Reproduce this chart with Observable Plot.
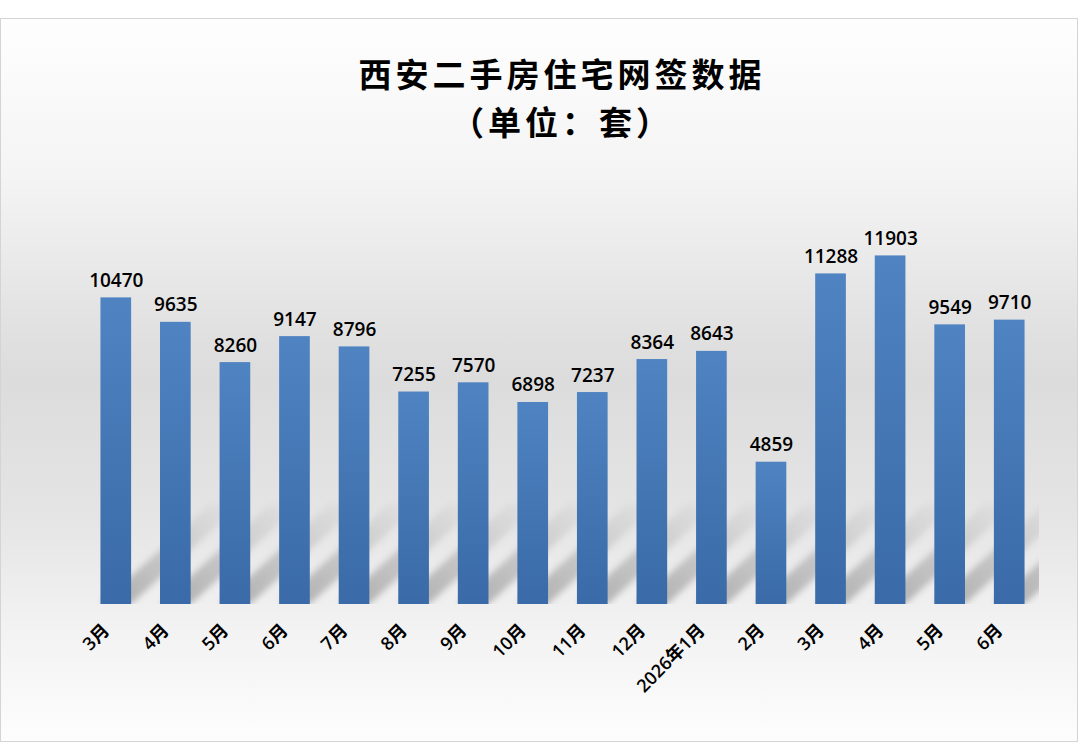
<!DOCTYPE html>
<html><head><meta charset="utf-8">
<script src="https://cdn.jsdelivr.net/npm/d3@7"></script>
<script src="https://cdn.jsdelivr.net/npm/@observablehq/plot@0.6"></script>
<style>
body{margin:0;background:#fff;width:1080px;height:745px;overflow:hidden;position:relative;font-family:"Noto Sans CJK SC","Noto Sans",sans-serif;}
#card{position:absolute;left:0;top:18px;width:1076px;height:722px;border:1px solid #d4d4d4;
background:linear-gradient(to bottom,#fefefe 0%,#f4f4f4 22%,#e0e0e0 44%,#dcdcdc 50%,#e4e4e4 68%,#f2f2f2 84%,#fdfdfd 100%);}
.t{position:absolute;left:0;top:49px;width:1124px;text-align:center;font-size:33px;letter-spacing:4px;line-height:48px;font-weight:bold;color:#000;}
#chart{position:absolute;left:0;top:0;}
</style></head>
<body>
<div id="card"></div>
<div class="t">西安二手房住宅网签数据<br>（单位：套）</div>
<div id="chart"></div>
<script>
const labels = ["3月","4月","5月","6月","7月","8月","9月","10月","11月","12月","2026年1月","2月","3月","4月","5月","6月"];
const values = [10470,9635,8260,9147,8796,7255,7570,6898,7237,8364,8643,4859,11288,11903,9549,9710];
const yMax = 14000;
const data = values.map((v,i)=>({i, v, label:labels[i]}));
const FONT = '"Open Sans","Noto Sans CJK SC",sans-serif';

const plot = Plot.plot({
  width:1080, height:745,
  marginTop:194, marginBottom:141, marginLeft:86, marginRight:41,
  style:{fontFamily:FONT, fontSize:"16px", background:"transparent", color:"#000"},
  x:{domain:d3.range(labels.length), paddingInner:0.485, paddingOuter:0.2425, round:false, axis:null},
  y:{domain:[0,yMax], axis:null},
  marks:[
    Plot.barY(data,{x:"i", y:"v", fill:"url(#barGrad)"}),
    Plot.text(data,{x:"i", y:"v", text:d=>String(d.v), lineAnchor:"bottom", dy:-11, fontSize:19, fontWeight:600, fill:"#000"}),
    Plot.text(data,{x:"i", y:0, text:"label", rotate:-45, textAnchor:"end", lineAnchor:"middle", dx:-10, dy:23, fontSize:18, fontWeight:600, fill:"#000"})
  ]
});
document.getElementById("chart").appendChild(plot);

const svg = d3.select(plot);
const defs = svg.insert("defs",":first-child");
const g = defs.append("linearGradient").attr("id","barGrad").attr("x1",0).attr("y1",0).attr("x2",0).attr("y2",1);
g.append("stop").attr("offset","0%").attr("stop-color","#4f83c1");
g.append("stop").attr("offset","100%").attr("stop-color","#3a6aa8");
const sg = defs.append("linearGradient").attr("id","shGrad").attr("x1",0).attr("y1",1).attr("x2",1).attr("y2",0);
sg.append("stop").attr("offset","0%").attr("stop-color","#000").attr("stop-opacity",0.28);
sg.append("stop").attr("offset","100%").attr("stop-color","#000").attr("stop-opacity",0);
defs.append("filter").attr("id","blur").attr("x","-20%").attr("y","-20%").attr("width","140%").attr("height","140%")
  .append("feGaussianBlur").attr("stdDeviation",3);
const xs = plot.scale("x"), ys = plot.scale("y");
const bw = xs.bandwidth;
const y0 = ys.apply(0);
const [rx0, rx1] = xs.range;
defs.append("clipPath").attr("id","plotClip").append("rect")
  .attr("x",rx0).attr("y",ys.apply(yMax)).attr("width",rx1-rx0).attr("height",y0-ys.apply(yMax));
const barG = svg.select("g[aria-label='bar']").node();
const shadowG = svg.insert("g", () => barG).attr("clip-path","url(#plotClip)");
const dx = 110, dy = 100;
data.forEach(d=>{
  const x0 = xs.apply(d.i), x1 = x0 + bw;
  shadowG.append("polygon")
    .attr("points", [[x0,y0],[x1,y0],[x1+dx,y0-dy],[x0+dx,y0-dy]].map(p=>p.join(",")).join(" "))
    .attr("fill","url(#shGrad)").attr("filter","url(#blur)");
});
</script>
</body></html>
